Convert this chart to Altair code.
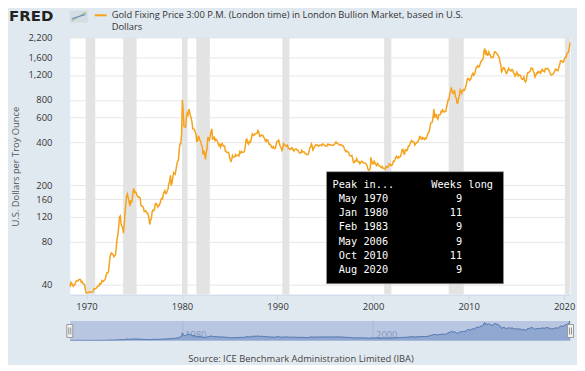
import altair as alt
import pandas as pd

# ---------------- data (monthly) ----------------
g_1968_69 = [38.5, 41.5, 41.0, 39.5, 39.0, 40.0, 40.0, 41.5, 42.5,
             42.5, 42.5, 43.5, 43.5, 43.5, 41.5, 42.0, 41.0, 40.5, 40.0, 37.0, 35.0]
g_1970s = [
    35.0, 35.0, 35.1, 35.6, 35.5, 35.4, 35.3, 35.4, 36.2, 37.5, 37.4, 37.4,
    37.9, 38.7, 38.9, 39.0, 40.5, 40.1, 41.0, 42.7, 42.0, 42.5, 42.9, 43.5,
    46.0, 48.3, 48.3, 49.0, 54.6, 62.1, 65.7, 67.0, 65.5, 64.9, 62.9, 63.9,
    65.1, 74.2, 84.4, 90.5, 102.0, 120.1, 122.0, 106.8, 103.0, 100.1, 92.0, 106.7,
    129.0, 150.2, 168.4, 174.0, 163.3, 154.1, 143.0, 154.6, 151.8, 158.8, 181.7, 190.0,
    178.0, 180.0, 177.8, 170.0, 167.0, 164.2, 165.2, 163.0, 144.1, 142.8, 142.8, 139.3,
    131.0, 131.3, 132.6, 128.2, 128.0, 125.0, 117.5, 106.0, 114.0, 116.3, 130.6, 133.9,
    132.3, 136.3, 148.3, 149.2, 146.7, 140.8, 143.4, 145.0, 149.4, 158.8, 162.1, 160.4,
    172.8, 178.8, 183.6, 175.3, 176.3, 183.3, 188.7, 206.1, 212.3, 235.0, 200.0, 207.8,
    227.3, 245.7, 242.1, 239.2, 257.8, 279.2, 295.0, 301.1, 355.2, 391.7, 392.5, 455.1,
]
g_1980s = [
    800.0, 665.0, 520.0, 517.0, 513.8, 600.7, 644.3, 626.5, 690.0, 661.1, 623.5, 594.9,
    557.3, 499.8, 498.6, 495.8, 479.7, 460.8, 409.3, 410.6, 443.2, 437.8, 413.4, 410.1,
    384.3, 374.4, 330.0, 350.6, 333.4, 305.0, 339.1, 364.0, 437.8, 422.9, 415.2, 444.3,
    481.0, 500.0, 419.9, 432.8, 437.6, 412.9, 422.7, 416.1, 411.8, 393.6, 381.2, 388.1,
    370.9, 386.3, 394.3, 381.3, 377.4, 377.9, 348.5, 347.7, 340.8, 340.2, 341.2, 320.2,
    302.8, 295.0, 303.6, 324.6, 316.5, 316.7, 317.4, 329.4, 323.6, 325.9, 325.3, 322.6,
    345.3, 338.9, 345.7, 340.4, 342.5, 342.9, 348.2, 376.4, 418.6, 423.8, 398.1, 390.6,
    408.1, 401.0, 408.9, 438.2, 460.2, 449.6, 450.5, 460.4, 460.0, 465.5, 466.8, 486.7,
    477.5, 442.4, 443.6, 452.1, 451.3, 451.6, 437.4, 431.8, 413.5, 406.8, 420.2, 419.0,
    404.1, 388.0, 390.3, 384.1, 371.0, 367.6, 375.0, 365.4, 362.6, 366.6, 394.1, 409.5,
]
g_1990s = [
    410.1, 416.7, 393.1, 374.3, 369.2, 352.3, 362.5, 394.7, 389.1, 380.5, 381.8, 378.2,
    383.6, 363.8, 363.3, 358.4, 357.4, 366.7, 367.7, 356.4, 348.9, 358.7, 359.7, 361.7,
    354.5, 353.9, 344.3, 338.6, 337.5, 340.8, 353.0, 342.9, 345.4, 344.4, 335.0, 334.7,
    329.0, 329.4, 330.1, 342.2, 367.2, 371.9, 392.0, 379.8, 355.3, 364.2, 373.8, 383.3,
    386.9, 382.0, 384.0, 377.3, 381.4, 385.6, 385.5, 380.4, 391.6, 389.8, 384.4, 379.3,
    378.6, 376.5, 382.1, 391.0, 385.3, 387.6, 386.2, 383.7, 383.1, 383.1, 386.0, 387.0,
    400.0, 405.0, 396.2, 392.9, 392.0, 385.3, 383.5, 387.5, 383.1, 381.1, 377.9, 369.3,
    355.0, 346.6, 351.8, 344.5, 343.8, 340.8, 324.1, 324.0, 322.8, 324.9, 306.0, 288.7,
    289.2, 297.5, 295.9, 308.4, 299.1, 292.3, 292.9, 284.1, 289.0, 295.9, 294.1, 291.4,
    287.3, 287.3, 286.0, 282.6, 276.4, 261.3, 256.2, 256.7, 264.7, 315.0, 293.2, 283.1,
]
g_2000s = [
    284.3, 299.9, 286.4, 279.7, 275.3, 285.7, 281.6, 274.5, 273.7, 270.0, 266.0, 271.5,
    265.5, 261.9, 263.0, 260.5, 272.4, 270.2, 267.5, 272.4, 283.4, 283.1, 276.2, 275.9,
    281.7, 295.5, 294.0, 302.7, 314.5, 321.2, 313.3, 310.3, 319.2, 316.6, 319.2, 333.4,
    356.9, 359.0, 340.6, 328.2, 355.7, 356.4, 351.0, 359.8, 378.9, 378.9, 389.9, 407.6,
    414.0, 405.3, 406.7, 403.0, 383.8, 392.4, 398.1, 400.5, 405.3, 420.5, 439.4, 442.1,
    424.0, 423.4, 434.2, 429.2, 421.9, 430.7, 424.5, 437.9, 456.0, 469.9, 476.7, 509.8,
    549.9, 555.0, 557.1, 610.7, 690.0, 596.2, 633.8, 632.6, 598.2, 585.8, 627.8, 629.8,
    631.2, 664.8, 654.9, 679.4, 666.9, 655.5, 665.3, 665.4, 712.7, 754.6, 806.3, 803.2,
    889.6, 922.3, 980.0, 909.7, 888.7, 889.5, 939.8, 839.0, 829.9, 760.0, 760.9, 816.1,
    858.7, 943.2, 924.3, 890.2, 928.6, 945.7, 934.2, 949.4, 996.6, 1043.2, 1127.0, 1134.7,
]
g_2010s = [
    1117.9, 1095.4, 1113.3, 1148.7, 1205.4, 1232.9, 1193.0, 1215.8, 1270.9, 1342.0, 1369.9, 1391.0,
    1360.5, 1374.7, 1423.3, 1480.9, 1512.6, 1529.4, 1572.8, 1780.0, 1840.0, 1665.2, 1738.9, 1652.3,
    1656.1, 1742.6, 1673.8, 1650.1, 1585.5, 1596.7, 1593.9, 1626.0, 1744.5, 1746.6, 1721.6, 1684.8,
    1671.9, 1627.6, 1593.1, 1487.9, 1414.0, 1260.0, 1285.5, 1351.7, 1348.6, 1316.6, 1275.8, 1225.4,
    1244.3, 1299.6, 1336.1, 1299.0, 1287.5, 1279.1, 1310.6, 1295.1, 1236.6, 1222.5, 1175.3, 1200.6,
    1251.8, 1227.1, 1178.6, 1198.9, 1198.6, 1181.5, 1128.3, 1117.9, 1124.8, 1159.3, 1086.4, 1068.3,
    1097.9, 1199.5, 1245.1, 1242.3, 1260.9, 1276.4, 1336.7, 1340.2, 1326.6, 1266.6, 1238.4, 1157.4,
    1192.1, 1234.2, 1231.1, 1266.9, 1246.0, 1260.3, 1236.8, 1283.0, 1314.1, 1279.5, 1281.9, 1264.5,
    1331.3, 1330.7, 1324.7, 1334.8, 1303.5, 1281.6, 1237.7, 1201.7, 1198.4, 1215.4, 1220.7, 1250.4,
    1291.8, 1320.1, 1300.9, 1285.9, 1283.7, 1359.0, 1412.9, 1500.4, 1510.6, 1494.8, 1470.8, 1479.1,
]
g_2020 = [1560.7, 1597.1, 1591.9, 1683.2, 1715.9, 1732.2, 1846.5, 2030.0]

rec_start = ["1969-12-01", "1973-11-01", "1980-01-01", "1981-07-01",
             "1990-07-01", "2001-03-01", "2007-12-01", "2020-02-01"]
rec_end = ["1970-11-30", "1975-03-31", "1980-07-31", "1982-11-30",
           "1991-03-31", "2001-11-30", "2009-06-30", "2020-08-15"]

y_ticks = [40, 80, 120, 160, 200, 400, 600, 800, 1200, 1600, 2200]
year_ticks = [1970, 1980, 1990, 2000, 2010, 2020]
nav_year_ticks = [1980, 2000]

peak_months = ["May 1970", "Jan 1980", "Feb 1983", "May 2006", "Oct 2010", "Aug 2020"]
weeks_long = [9, 11, 9, 9, 11, 9]

title_line1 = "Gold Fixing Price 3:00 P.M. (London time) in London Bullion Market, based in U.S."
title_line2 = "Dollars"
y_title = "U.S. Dollars per Troy Ounce"
source_text = "Source: ICE Benchmark Administration Limited (IBA)"
table_header = "Peak in...      Weeks long"

# annotation box anchors in data coordinates
box_dates = ["1995-02-17", "2013-08-28"]
box_prices = [40.6, 249.5]
table_anchor_date = "1995-10-04"
table_anchor_price = 201

# ---------------- frames ----------------
price = g_1968_69 + g_1970s + g_1980s + g_1990s + g_2000s + g_2010s + g_2020
dates = pd.date_range("1968-04-01", periods=len(price), freq="MS") + pd.Timedelta(days=14)
gold = pd.DataFrame({"date": dates, "price": price})
rec = pd.DataFrame({"start": pd.to_datetime(rec_start), "end": pd.to_datetime(rec_end)})
box_df = pd.DataFrame({"x1": [pd.Timestamp(box_dates[0])], "x2": [pd.Timestamp(box_dates[1])],
                       "y1": [box_prices[0]], "y2": [box_prices[1]]})
tab_df = pd.DataFrame({"x": [pd.Timestamp(table_anchor_date)], "y": [table_anchor_price]})
one = pd.DataFrame({"k": [0]})

NB = "\u00a0"
header_line = table_header.replace(" ", NB)
row_lines = [(m + str(w).rjust(12)).replace(" ", NB) for m, w in zip(peak_months, weeks_long)]

# ---------------- styles ----------------
FONT = "Open Sans"
FS = 9.4
TXT = "#333333"
ORANGE = "#f5a31c"
W, H = 502, 258
MONO = dict(align="left", baseline="middle", font="DejaVu Sans Mono", fontSize=10.3,
            lineHeight=14.2, color="white")

x_scale = alt.Scale(domain=[alt.DateTime(year=1968, month=4, date=1),
                            alt.DateTime(year=2020, month=8, date=15)])
y_scale = alt.Scale(type="log", domain=[34, 2200])

x_axis = alt.Axis(title=None, format="%Y", values=[alt.DateTime(year=y) for y in year_ticks],
                  grid=False, domainColor="#ccd6eb", tickColor="#ccd6eb", tickSize=5,
                  labelPadding=3, labelFont=FONT, labelFontSize=FS, labelColor=TXT,
                  labelFlush=False, labelOverlap=False)
y_axis = alt.Axis(title=y_title, values=y_ticks, format=",", grid=True, gridColor="#e6e6e6",
                  domain=False, ticks=False, labelPadding=18, labelFont=FONT, labelFontSize=FS,
                  labelColor=TXT, labelOverlap=False, titleFont=FONT, titleFontSize=FS,
                  titleFontWeight="normal", titleColor="#555555", titleX=-54, titleY=H / 2,
                  titleAngle=270, titleAlign="center", titleBaseline="middle")

X = lambda f: alt.X(f, scale=x_scale, axis=x_axis)
Y = lambda f: alt.Y(f, scale=y_scale, axis=y_axis)

bounds_tl = alt.Chart(one).mark_rect(opacity=0).encode(
    x=alt.value(-61), x2=alt.value(-60), y=alt.value(-27.3), y2=alt.value(-26.3))
recessions = alt.Chart(rec).mark_rect(color="#e3e3e3").encode(x=X("start:T"), x2="end:T")
line = alt.Chart(gold).mark_line(color=ORANGE, strokeWidth=1.5).encode(
    x=X("date:T"), y=Y("price:Q"))
box = alt.Chart(box_df).mark_rect(fill="black", stroke="#9a9a9a", strokeWidth=0.6).encode(
    x=X("x1:T"), x2="x2:T", y=Y("y1:Q"), y2="y2:Q")
table_head = alt.Chart(tab_df).mark_text(**MONO).encode(
    x=X("x:T"), y=Y("y:Q"), text=alt.value(header_line))
table_rows = alt.Chart(tab_df).mark_text(dx=6.2, dy=14.2, **MONO).encode(
    x=X("x:T"), y=Y("y:Q"), text=alt.value(row_lines))

fred = alt.Chart(one).mark_text(align="left", baseline="alphabetic", font="DejaVu Sans",
                                fontWeight="bold", fontSize=15, color="#222222").encode(
    x=alt.value(-61), y=alt.value(-16.3), text=alt.value("FRED"))
icon = alt.Chart(one).mark_rect(fill="#d5dde4").encode(
    x=alt.value(0), x2=alt.value(18), y=alt.value(-27), y2=alt.value(-15))
icon_g = alt.Chart(one).mark_rule(color="#7fb15a", strokeWidth=1).encode(
    x=alt.value(2), x2=alt.value(16), y=alt.value(-17), y2=alt.value(-25))
icon_b = alt.Chart(one).mark_rule(color="#6a8fc7", strokeWidth=1).encode(
    x=alt.value(2), x2=alt.value(16), y=alt.value(-19), y2=alt.value(-23))
legend_swatch = alt.Chart(one).mark_rule(color=ORANGE, strokeWidth=2).encode(
    x=alt.value(25), x2=alt.value(37), y=alt.value(-22.3))
t1 = alt.Chart(one).mark_text(align="left", baseline="middle", font=FONT, fontSize=FS,
                              color=TXT).encode(x=alt.value(42), y=alt.value(-22.3),
                                                text=alt.value(title_line1))
t2 = alt.Chart(one).mark_text(align="left", baseline="middle", font=FONT, fontSize=FS,
                              color=TXT).encode(x=alt.value(42), y=alt.value(-10.3),
                                                text=alt.value(title_line2))

main = alt.layer(bounds_tl, recessions, line, box, table_head, table_rows, fred, icon,
                 icon_g, icon_b, legend_swatch, t1, t2).properties(width=W, height=H)

# ---------------- navigator ----------------
nav_axis = alt.Axis(title=None, format="%Y", values=[alt.DateTime(year=y) for y in nav_year_ticks],
                    grid=True, gridColor="#a9b8d6", domain=False, ticks=False,
                    labelAlign="left", labelBaseline="middle", labelPadding=-6.3, labelOffset=2.5,
                    labelColor="#8496bb", labelFont=FONT, labelFontSize=FS,
                    labelFlush=False, labelOverlap=False)
nav_area = alt.Chart(gold).mark_area(color="#7f9bcb", line={"color": "#4a70aa", "strokeWidth": 1},
                                     clip=True).encode(
    x=alt.X("date:T", scale=x_scale, axis=nav_axis),
    y=alt.Y("price:Q", scale=alt.Scale(domain=[30, 2060]), axis=None))
handles = []
for xa, xb in [(-3, 3), (499.5, 505.5)]:
    handles.append(alt.Chart(one).mark_rect(fill="#f2f2f2", stroke="#999999", strokeWidth=1).encode(
        x=alt.value(xa), x2=alt.value(xb), y=alt.value(4), y2=alt.value(17)))
    for gx in (xa + 2, xa + 4):
        handles.append(alt.Chart(one).mark_rule(color="#777777", strokeWidth=0.8).encode(
            x=alt.value(gx), y=alt.value(7), y2=alt.value(14)))
source = alt.Chart(one).mark_text(align="center", baseline="middle", font=FONT, fontSize=FS,
                                  color="#444444").encode(
    x=alt.value(232), y=alt.value(38.7), text=alt.value(source_text))
bounds_br = alt.Chart(one).mark_rect(opacity=0).encode(
    x=alt.value(507.5), x2=alt.value(508), y=alt.value(41), y2=alt.value(41.5))

nav = alt.layer(nav_area, *handles, source, bounds_br).properties(
    width=W, height=20, view=alt.ViewBackground(fill="#b8c6e1", stroke="transparent"))

chart = alt.vconcat(main, nav, spacing=26, bounds="flush").properties(
    padding=0, background="#e1e9f0").configure_view(fill="white", stroke="transparent")

chart.save("out.html", embed_options={"renderer": "svg", "actions": False})
